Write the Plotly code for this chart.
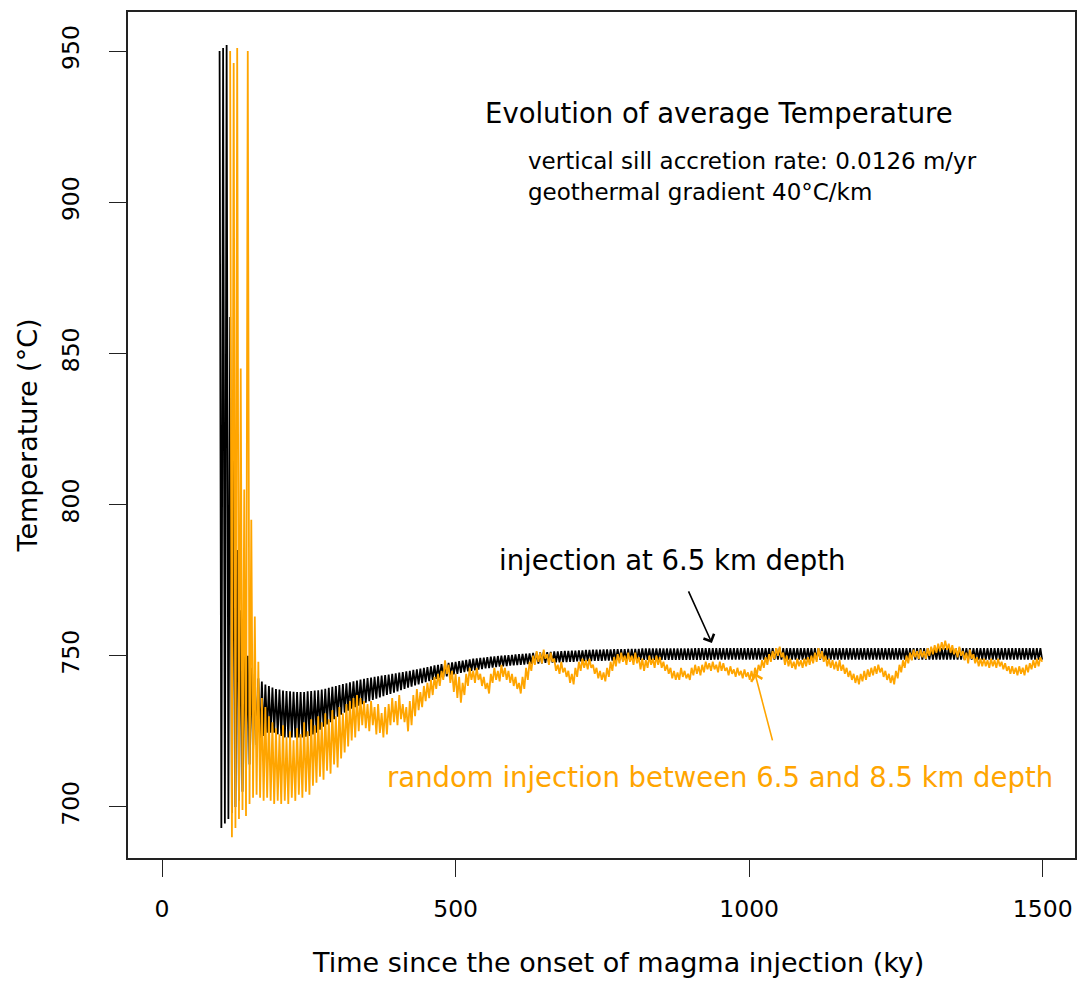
import plotly.graph_objects as go

# time of each model output (ky since onset of magma injection)
time_ky = [
98,101,104,107,110,113,116,119,122,125,
128,131,134,137,140,143,146,149,152,155,
158,161,164,167,170,173,176,179,182,185,
188,191,194,197,200,203,206,209,212,215,
218,221,224,227,230,233,236,239,242,245,
248,251,254,257,260,263,266,269,272,275,
278,281,284,287,290,293,296,299,302,305,
308,311,314,317,320,323,326,329,332,335,
338,341,344,347,350,353,356,359,362,365,
368,371,374,377,380,383,386,389,392,395,
398,401,404,407,410,413,416,419,422,425,
428,431,434,437,440,443,446,449,452,455,
458,461,464,467,470,473,476,479,482,485,
488,491,494,497,500,503,506,509,512,515,
518,521,524,527,530,533,536,539,542,545,
548,551,554,557,560,563,566,569,572,575,
578,581,584,587,590,593,596,599,602,605,
608,611,614,617,620,623,626,629,632,635,
638,641,644,647,650,653,656,659,662,665,
668,671,674,677,680,683,686,689,692,695,
698,701,704,707,710,713,716,719,722,725,
728,731,734,737,740,743,746,749,752,755,
758,761,764,767,770,773,776,779,782,785,
788,791,794,797,800,803,806,809,812,815,
818,821,824,827,830,833,836,839,842,845,
848,851,854,857,860,863,866,869,872,875,
878,881,884,887,890,893,896,899,902,905,
908,911,914,917,920,923,926,929,932,935,
938,941,944,947,950,953,956,959,962,965,
968,971,974,977,980,983,986,989,992,995,
998,1001,1004,1007,1010,1013,1016,1019,1022,1025,
1028,1031,1034,1037,1040,1043,1046,1049,1052,1055,
1058,1061,1064,1067,1070,1073,1076,1079,1082,1085,
1088,1091,1094,1097,1100,1103,1106,1109,1112,1115,
1118,1121,1124,1127,1130,1133,1136,1139,1142,1145,
1148,1151,1154,1157,1160,1163,1166,1169,1172,1175,
1178,1181,1184,1187,1190,1193,1196,1199,1202,1205,
1208,1211,1214,1217,1220,1223,1226,1229,1232,1235,
1238,1241,1244,1247,1250,1253,1256,1259,1262,1265,
1268,1271,1274,1277,1280,1283,1286,1289,1292,1295,
1298,1301,1304,1307,1310,1313,1316,1319,1322,1325,
1328,1331,1334,1337,1340,1343,1346,1349,1352,1355,
1358,1361,1364,1367,1370,1373,1376,1379,1382,1385,
1388,1391,1394,1397,1400,1403,1406,1409,1412,1415,
1418,1421,1424,1427,1430,1433,1436,1439,1442,1445,
1448,1451,1454,1457,1460,1463,1466,1469,1472,1475,
1478,1481,1484,1487,1490,1493,1496,1499]

# average temperature, injection at 6.5 km depth (°C)
temp_fixed = [
950,693,951,694.5,952,696,862,698,815,700,
785,702,765,705,758,710,750,714,746,718,
744,720.5,742.5,722,741.5,723.5,740.5,724.5,740,724.5,
739.5,724.5,739,724,738.8,723.5,738.5,723,738.3,723,
738.2,723,738.1,723,738,723,738,723,738,723.2,
738.2,723.5,738.3,724,738.5,724.5,738.6,725.5,738.8,726.5,
739.1,727.3,739.4,728,739.7,729,740,729.8,740.3,730.5,
740.6,731.2,740.9,731.8,741.2,732.5,741.5,733,741.8,733.5,
742.1,734,742.4,734.5,742.6,735,742.8,735.4,743,735.8,
743.2,736.2,743.4,736.6,743.6,737,743.8,737.4,744,737.8,
744.2,738.2,744.4,738.6,744.6,739,744.8,739.4,745,739.8,
745.3,740.2,745.5,740.5,745.7,740.9,746,741.3,746.2,741.6,
746.5,742,746.8,742.3,747,742.6,747.2,742.9,747.4,743.2,
747.6,743.5,747.8,743.8,748,744,748.2,744.3,748.4,744.6,
748.6,744.8,748.8,745,749,745.2,749.1,745.4,749.3,745.6,
749.4,745.8,749.5,745.9,749.7,746.1,749.8,746.2,749.9,746.4,
750,746.5,750.1,746.6,750.2,746.7,750.3,746.8,750.4,746.9,
750.5,747,750.6,747.1,750.7,747.2,750.8,747.3,750.9,747.4,
751,747.4,751.1,747.5,751.2,747.6,751.2,747.6,751.3,747.7,
751.4,747.8,751.4,747.8,751.5,747.9,751.6,747.9,751.6,748,
751.7,748,751.7,748.1,751.8,748.1,751.8,748.2,751.9,748.2,
751.9,748.2,752,748.3,752,748.3,752,748.3,752.1,748.4,
752.1,748.4,752.1,748.4,752.2,748.4,752.2,748.5,752.2,748.5,
752.2,748.5,752.3,748.5,752.3,748.5,752.3,748.5,752.3,748.6,
752.4,748.6,752.4,748.6,752.4,748.6,752.4,748.6,752.4,748.6,
752.4,748.6,752.4,748.6,752.4,748.6,752.4,748.6,752.4,748.6,
752.4,748.6,752.4,748.6,752.4,748.6,752.4,748.6,752.4,748.6,
752.5,748.6,752.5,748.6,752.5,748.6,752.5,748.6,752.5,748.6,
752.5,748.7,752.5,748.7,752.5,748.7,752.5,748.7,752.5,748.7,
752.5,748.7,752.5,748.7,752.5,748.7,752.5,748.7,752.5,748.7,
752.5,748.7,752.5,748.7,752.5,748.7,752.5,748.7,752.5,748.7,
752.5,748.7,752.5,748.7,752.5,748.7,752.5,748.7,752.5,748.7,
752.5,748.7,752.5,748.7,752.5,748.7,752.5,748.7,752.5,748.7,
752.5,748.7,752.5,748.7,752.5,748.7,752.5,748.7,752.5,748.7,
752.5,748.7,752.5,748.7,752.5,748.7,752.5,748.7,752.5,748.7,
752.5,748.7,752.5,748.7,752.5,748.7,752.5,748.7,752.5,748.7,
752.5,748.7,752.5,748.7,752.5,748.7,752.5,748.7,752.5,748.7,
752.5,748.7,752.5,748.7,752.5,748.7,752.5,748.7,752.5,748.7,
752.5,748.7,752.5,748.7,752.5,748.7,752.5,748.7,752.5,748.7,
752.5,748.7,752.5,748.7,752.5,748.7,752.5,748.7,752.5,748.7,
752.5,748.7,752.5,748.7,752.5,748.7,752.5,748.7,752.5,748.7,
752.5,748.7,752.5,748.7,752.5,748.7,752.5,748.7,752.5,748.7,
752.5,748.7,752.5,748.7,752.5,748.7,752.5,748.7,752.5,748.7,
752.5,748.7,752.5,748.7,752.5,748.7,752.5,748.7,752.5,748.7,
752.5,748.7,752.5,748.7,752.5,748.7,752.5,748.7,752.5,748.7,
752.5,748.7,752.5,748.7,752.5,748.7,752.5,748.7,752.5,748.7,
752.5,748.7,752.5,748.7,752.5,748.7,752.5,748.7]

# average temperature, random injection between 6.5 and 8.5 km depth (°C)
temp_random = [
None,None,None,None,None,None,950,690,946,693,
951,696,845,699,805,697,950,701,795,703,
763,704,748,703,736,702,733,703,730,702,
728,701,726,702,724,701,727,702,723,701,
725,703,722,702,726,704,724,703,728,705,
725,704,729,707,727,708,730,710,728,709,
731,712,729,711,732,714,730,713,733,716,
731,718,734,720,735,722,736,723,737,725,
736,727,735,726,734,725,735,727,733,724,
734,724.5,731,723,733,724,734,727,736,728,
735,727,737,729,734,728,733,725,735,727,
737,730,739,732,738,733,740,735,741,736,
742,737,743,739,744,740,745,742,748.5,744,
747,741,745,738,744,736,743,734.5,741,737,
744,740,746,742,745,741,746,742,744,740,
743,739,741,737.5,744,741,746,742,745,741.5,
747,743,746,742,745,741,744,740,743,739,
741,737.5,743,739,746,742,748,745,750,747,
751.5,748,751,747.5,752,749,750.5,747,751,748,
749,745,747,744,748,744.5,746,743,745,741,
744,740.5,746,743,748,745,749,746,748.5,745.5,
749,746,747,744,746,742.5,745,742,744.5,741.5,
746,743,748,745,749.5,746.5,750.5,747.5,751,748,
750,747,751,748,750,747,751,747.5,749.5,745.5,
749,745,748.5,746,750,747,749,746,750,747,
749.5,746,748,745,747,744,746,742.5,745,742,
744.5,742,746,743,745,742.5,744,742,746,743.5,
747,744,746.5,743.5,747,744.5,748,745.5,747.5,745,
748,745.5,747,744.5,748,745,747.5,745,746,743.5,
746.5,744,745.5,743,746,743.5,745,742.5,745.5,743,
744.5,742,745,742,746,743.5,747,745,748.5,746,
749.5,747,750.5,748,751.5,749,752.5,750,753,749.5,
751,747,750,746.5,749,746,748,745.5,749,746.5,
748.5,746,749,746.5,749.5,747,750,747.5,751,748,
752.5,749,751.5,748,750,746.5,749,746,748.5,745.5,
748,745,748.5,745,747,744,746,743,745,742,
744,741,743.5,740.5,744,741.5,745,742,745.5,743,
746,743.5,746.5,744,747,744.5,746,743,745,742,
744,741,743.5,740.5,745,742.5,747,744.5,748.5,746,
750,747.5,751,748.5,752,749.5,751.5,749,752,749.5,
751.5,749,752.5,750,753,750.5,753.5,751,754,751.5,
754.5,752,755,752,754,751,753.5,750.5,752.5,749.5,
753,750,751.5,748.5,751,747.5,752,749,750.5,747.5,
749.5,746.5,749,746.5,749,746.5,748.5,746,749,746.5,
748.5,746,749,746.5,748,745.5,747.5,745,746.5,744,
746.5,744,746,743.5,746.5,744,746,743.5,747,744.5,
747.5,745.5,748.5,746,749,746.5,749.5,748]

assert len(time_ky) == len(temp_fixed) == len(temp_random), (len(time_ky), len(temp_fixed), len(temp_random))

x_ticks = [0, 500, 1000, 1500]
y_ticks = [700, 750, 800, 850, 900, 950]

x_title = "Time since the onset of magma injection (ky)"
y_title = "Temperature (°C)"
title_text = "Evolution of average Temperature"
sub_lines = ["vertical sill accretion rate: 0.0126 m/yr", "geothermal gradient 40°C/km"]
label_fixed = "injection at 6.5 km depth"
label_random = "random injection between 6.5 and 8.5 km depth"

ORANGE = "#FFA500"
FONT = "DejaVu Sans"

fig = go.Figure()
fig.add_trace(go.Scatter(x=time_ky, y=temp_fixed, mode="lines",
                         line=dict(color="black", width=1.8), showlegend=False,
                         name=label_fixed))
fig.add_trace(go.Scatter(x=time_ky, y=temp_random, mode="lines",
                         line=dict(color=ORANGE, width=1.8), showlegend=False,
                         connectgaps=False, name=label_random))

axis_common = dict(showgrid=False, zeroline=False, showline=True, mirror=True,
                   linecolor="#222", linewidth=1.5, ticks="outside", ticklen=17,
                   tickwidth=1.3, tickcolor="#222", automargin=False,
                   tickfont=dict(family=FONT, size=23.5, color="black"))

fig.update_layout(
    width=1077, height=981,
    margin=dict(l=128, r=2, t=12, b=123),
    paper_bgcolor="white", plot_bgcolor="white",
    font=dict(family=FONT, color="black"),
    xaxis=dict(range=[-58, 1555], tickvals=x_ticks, ticktext=[str(v) for v in x_ticks],
               ticklabelstandoff=12,
               **axis_common),
    yaxis=dict(range=[683.1, 962.9], tickvals=y_ticks, ticktext=[str(v) for v in y_ticks],
               tickangle=-90, ticklabelstandoff=21,
               title=dict(text=y_title, font=dict(family=FONT, size=27),
                          standoff=11),
               **axis_common),
)

annotations = [
    dict(text=x_title, xref="paper", yref="paper", x=(618 - 128) / 947, y=(858 - 962) / 846,
         showarrow=False, xanchor="center", yanchor="middle",
         font=dict(family=FONT, size=27, color="black")),
    dict(text=title_text, xref="paper", yref="paper", x=(719 - 128) / 947, y=(858 - 113) / 846,
         showarrow=False, xanchor="center", yanchor="middle",
         font=dict(family=FONT, size=27.5, color="black")),
    dict(text=sub_lines[0], xref="paper", yref="paper", x=(526 - 128) / 947, y=(858 - 161) / 846,
         showarrow=False, xanchor="left", yanchor="middle",
         font=dict(family=FONT, size=23, color="black")),
    dict(text=sub_lines[1], xref="paper", yref="paper", x=(526 - 128) / 947, y=(858 - 192) / 846,
         showarrow=False, xanchor="left", yanchor="middle",
         font=dict(family=FONT, size=23, color="black")),
    dict(text=label_fixed, xref="paper", yref="paper", x=(672 - 128) / 947, y=(858 - 560) / 846,
         showarrow=False, xanchor="center", yanchor="middle",
         font=dict(family=FONT, size=27.5, color="black")),
    dict(text=label_random, xref="paper", yref="paper", x=(720 - 128) / 947, y=(858 - 777) / 846,
         showarrow=False, xanchor="center", yanchor="middle",
         font=dict(family=FONT, size=27.5, color=ORANGE)),
    # arrows
    dict(text="", x=936.5, y=754.2, ax=895.6, ay=771.8, xref="x", yref="y",
         axref="x", ayref="y", showarrow=True, arrowhead=4, arrowsize=1.4,
         arrowwidth=1.6, arrowcolor="black"),
    dict(text="", x=1009.7, y=744.3, ax=1040.4, ay=721.5, xref="x", yref="y",
         axref="x", ayref="y", showarrow=True, arrowhead=4, arrowsize=1.4,
         arrowwidth=1.6, arrowcolor=ORANGE),
]
fig.update_layout(annotations=annotations)

fig.write_html("out.html")
